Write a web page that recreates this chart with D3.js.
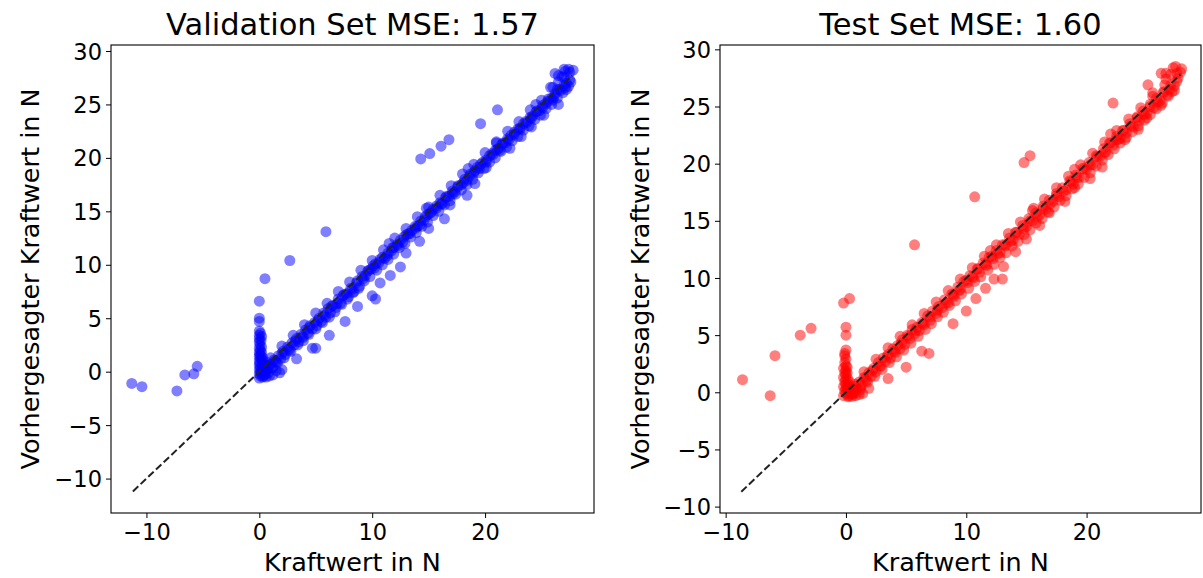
<!DOCTYPE html>
<html>
<head>
<meta charset="utf-8">
<script src="https://cdn.jsdelivr.net/npm/d3@7"></script>
<style>
  html, body { margin: 0; padding: 0; background: #fff; }
  svg { display: block; font-family: "DejaVu Sans", sans-serif; }
</style>
</head>
<body>
<svg id="chart" width="1203" height="578"></svg>
<script>
// ---------- DATA ----------
const titles = ["Validation Set MSE: 1.57", "Test Set MSE: 1.60"];
const xLabel = "Kraftwert in N";
const yLabel = "Vorhergesagter Kraftwert in N";
const xTicks = [-10, 0, 10, 20];
const yTicks = [-10, -5, 0, 5, 10, 15, 20, 25, 30];

// validation: [actual, predicted]
const valOutliers = [[-11.3,-1.1],[-10.4,-1.4],[-7.3,-1.8],[-6.6,-0.3],[-5.8,-0.2],[-5.5,0.5],
  [0.5,8.7],[0.0,6.6],[2.7,10.4],[5.9,13.1],[14.3,19.9],[15.1,20.4],[16.1,21.1],[16.8,21.7],[19.6,23.2],[21.1,24.5]];
const valColumn = [[0,-0.6],[0.1,-0.4],[0,-0.2],[0.1,0],[0,0.2],[0.1,0.4],[0,0.6],[0.05,0.8],[0,1.0],[0.1,1.2],
  [0,1.4],[0.05,1.6],[0,1.8],[0.1,2.0],[0,2.2],[0.05,2.5],[0,2.8],[0,3.1],[0,3.4],[0,3.8],[0,4.7],[0,5.0],
  [0.3,0.3],[0.3,0.8],[0.3,1.3],[0.2,1.8],[0.2,2.3],[0.15,2.9],[0.4,0.0],[0.5,0.5],[0.6,0.9],[0.2,3.3],[0.1,3.6],
  [0.4,-0.4],[0.2,-0.2],[0.35,0.6],[0.25,1.1],[0.15,1.5]];
const valLow = [[0.3,-0.5],[0.6,-0.5],[0.9,-0.4],[1.2,-0.3],[0.5,-0.2],[1.8,-0.1],[2.0,0.2],[0.8,-0.1],[1.5,0.1]];
const valUnder = [[3.3,1.2],[5.0,2.2],[4.7,2.2],[6.2,3.4],[7.6,4.7],[8.7,6.1],[10.0,7.1],[10.3,6.8],[10.7,8.3],
  [11.6,9.0],[12.5,9.8],[13.0,11.1],[14.2,12.2],[15.0,13.4],[16.4,14.3],[16.9,15.6],[18.4,16.5],[19.1,17.6],
  [20.1,19.1],[21.3,20.7],[22.2,20.9],[23.2,22.0],[24.1,22.9],[25.2,24.0],[26.0,25.4],[26.5,25.0],[27.2,26.4]];
const valDiagonal = [[0.2,0.1],[0.4,-0.3],[0.6,0.2],[0.8,0.5],[1.0,0.7],[1.2,0.4],[1.3,1.1],[1.5,0.9],[1.7,1.5],[1.9,1.2],
  [2.1,1.9],[2.3,1.6],[2.5,2.3],[2.7,2.0],[2.9,2.7],[3.1,2.5],[3.3,3.1],[3.5,2.8],[3.7,3.5],[3.9,3.2],[4.1,3.9],[4.3,3.6],
  [4.5,4.3],[4.7,4.0],[4.9,4.6],[5.1,4.3],[5.3,5.0],[5.5,4.7],[5.7,5.5],[5.9,5.1],[6.1,5.9],[6.3,5.5],[6.5,6.2],[6.8,6.0],
  [7.0,6.8],[7.2,6.4],[7.4,7.1],[7.7,7.3],[7.9,7.0],[8.1,7.8],[8.4,7.5],[8.6,8.3],[8.9,8.0],[9.1,8.9],[9.4,9.0],[9.6,9.4],
  [9.9,9.6],[10.1,9.9],[10.3,10.1],[10.6,10.2],[10.9,10.7],[11.1,10.6],[11.4,11.1],[11.7,11.3],[11.9,11.6],[12.2,11.9],
  [12.5,12.3],[12.7,12.1],[13.0,12.8],[13.2,12.9],[13.5,13.2],[13.8,13.4],[14.0,13.6],[14.3,14.1],[14.6,14.2],[14.9,14.7],
  [15.1,14.8],[15.4,15.2],[15.7,15.3],[16.0,15.8],[16.2,15.7],[16.5,16.3],[16.8,16.4],[17.1,16.9],[17.3,16.8],[17.6,17.4],
  [17.9,17.5],[18.2,18.0],[18.4,17.9],[18.7,18.5],[19.0,18.6],[19.3,19.1],[19.5,19.0],[19.8,19.6],[20.1,19.8],[20.4,20.2],
  [20.7,20.3],[20.9,20.7],[21.2,20.9],[21.5,21.3],[21.8,21.4],[22.0,21.8],[22.3,22.1],[22.6,22.2],[22.9,22.7],[23.1,22.7],
  [23.4,23.2],[23.7,23.3],[24.0,23.8],[24.2,23.9],[24.5,24.3],[24.8,24.4],[25.1,24.9],[25.4,25.1],[25.6,25.5],[25.9,25.6],
  [26.2,26.0],[26.4,26.4],[26.7,26.3],[27.0,26.8],[27.2,27.0],[27.5,27.3],[27.4,28.3],[27.1,28.1],[26.8,27.6],[26.5,27.1],
  [26.2,27.9],[27.8,28.2],[11.5,12.0],[14.8,15.3],[18.5,19.0],[21.0,21.5],[24.5,25.0],[25.8,26.6]];
const valBand = [[0.5,0.0],[1.1,0.3],[1.6,0.8],[2.2,1.3],[2.8,1.9],[3.4,2.5],[3.9,2.9],[4.4,3.5],[5.0,4.0],[5.6,4.6],
  [6.2,5.1],[6.7,5.6],[7.3,6.3],[7.8,6.8],[8.3,7.4],[8.8,7.8],[9.3,8.5],[9.8,8.9],[10.4,9.5],[10.9,10.0],[11.4,10.5],
  [11.9,11.0],[12.4,11.6],[12.9,12.0],[13.4,12.6],[13.9,13.0],[14.4,13.6],[14.9,14.0],[15.4,14.6],[15.9,15.0],[16.4,15.6],
  [16.9,16.0],[17.4,16.6],[17.9,17.0],[18.4,17.5],[18.9,18.0],[19.4,18.6],[19.9,19.0],[20.4,19.6],[20.9,20.0],[21.4,20.6],
  [21.9,21.0],[22.4,21.6],[22.9,22.0],[23.4,22.6],[23.9,23.0],[24.4,23.6],[24.9,24.0],[25.4,24.6],[25.9,25.0],[26.4,25.6],
  [26.9,26.1],[27.4,26.7],
  [1.0,1.3],[2.0,2.4],[3.0,3.4],[4.0,4.4],[5.0,5.5],[6.0,6.4],[7.0,7.5],[8.0,8.4],[9.0,9.5],[10.0,10.4],[11.0,11.4],
  [12.0,12.5],[13.0,13.4],[14.0,14.5],[15.0,15.4],[16.0,16.5],[17.0,17.4],[18.0,18.5],[19.0,19.4],[20.0,20.5],[21.0,21.4],
  [22.0,22.5],[23.0,23.4],[24.0,24.5],[25.0,25.4],[26.0,26.6],[27.0,27.6]];
const valBand2 = [[0.7,0.6],[1.4,1.0],[2.0,1.7],[2.6,2.1],[3.2,2.9],[3.8,3.3],[4.4,4.1],[5.2,4.8],[5.8,5.3],[6.4,6.1],
  [6.9,6.4],[7.5,7.2],[8.2,7.7],[8.7,8.5],[9.2,8.7],[9.7,9.5],[10.2,9.7],[10.7,10.5],[11.3,10.8],[11.8,11.6],[12.3,11.8],
  [12.8,12.6],[13.3,12.9],[13.8,13.6],[14.2,13.7],[14.7,14.5],[15.2,14.9],[15.7,15.5],[16.1,15.7],[16.6,16.4],[17.1,16.6],
  [17.6,17.3],[18.1,17.7],[18.6,18.3],[19.1,18.8],[19.6,19.4],[20.1,19.6],[20.6,20.4],[21.1,20.8],[21.6,21.4],[22.1,21.7],
  [22.6,22.4],[23.1,22.8],[23.6,23.4],[24.1,23.7],[24.6,24.4],[25.1,24.7],[25.6,25.3],[26.1,25.7],[26.6,26.4],[27.1,26.6],
  [27.6,27.1],[27.5,28.0],[27.0,28.3],[26.5,27.7]];
const valLine = [-11.2, 27.7];

// test: [actual, predicted]
const testOutliers = [[-8.6,1.1],[-6.3,-0.3],[-5.9,3.2],[-3.8,5.0],[-2.9,5.6],[-0.2,7.8],[0.3,8.2],
  [5.7,12.9],[10.7,17.1],[14.8,20.1],[15.3,20.7],[22.2,25.3]];
const testColumn = [[-0.2,-0.3],[0,-0.1],[-0.1,0.1],[0,0.3],[-0.2,0.5],[0,0.7],[-0.1,0.9],[0,1.1],[-0.2,1.3],[0,1.5],
  [-0.1,1.7],[0,1.9],[-0.2,2.1],[0,2.3],[-0.1,2.6],[0,2.9],[-0.1,3.2],[0,3.7],[0,5.0],[0,5.7],
  [0.2,0.2],[0.2,0.7],[0.15,1.2],[0.1,1.7],[0.1,2.2],[0.3,-0.1],[0.4,0.4],[0.3,0.9],[-0.1,3.4],[0.2,-0.4],[0.1,0.5]];
const testLow = [[0.2,-0.3],[0.5,-0.35],[0.8,-0.3],[1.1,-0.2],[1.4,-0.1],[1.9,0.35],[0.7,0.0],[1.2,0.2]];
const testUnder = [[3.5,1.2],[5.0,2.2],[6.3,3.6],[6.9,3.4],[8.9,6.0],[10.0,7.1],[10.8,8.2],[11.6,9.1],[12.3,9.9],
  [13.0,9.9],[13.1,11.0],[14.1,12.3],[15.0,13.4],[16.1,14.6],[16.9,15.7],[18.2,16.7],[19.0,17.9],[20.3,18.7],
  [21.3,19.7],[22.5,22.1],[23.2,22.1],[24.3,23.0],[25.0,24.0],[26.2,25.1],[27.1,26.3]];
const testDiagonal = [[0.3,0.2],[0.5,-0.2],[0.7,0.5],[0.9,0.3],[1.1,0.9],[1.3,0.6],[1.5,1.3],[1.7,1.0],[1.9,1.7],[2.1,1.4],
  [2.3,2.1],[2.5,1.8],[2.7,2.6],[2.9,2.3],[3.1,3.0],[3.3,2.7],[3.5,3.3],[3.7,3.0],[3.9,3.8],[4.1,3.5],[4.3,4.1],[4.5,3.8],
  [4.7,4.6],[4.9,4.2],[5.1,5.0],[5.3,4.7],[5.5,5.5],[5.7,5.1],[5.9,5.7],[6.1,5.4],[6.3,6.1],[6.5,5.9],[6.8,6.7],[7.0,6.3],
  [7.2,7.1],[7.5,6.9],[7.7,7.5],[8.0,7.4],[8.2,8.1],[8.5,7.8],[8.8,8.6],[9.0,8.4],[9.3,9.2],[9.5,9.0],[9.8,9.7],[10.1,9.6],
  [10.3,10.2],[10.6,10.0],[10.9,10.8],[11.1,10.5],[11.4,11.3],[11.7,11.1],[11.9,11.8],[12.2,11.7],[12.5,12.4],[12.8,12.2],
  [13.0,12.9],[13.3,12.8],[13.6,13.5],[13.9,13.3],[14.1,14.0],[14.4,13.8],[14.7,14.6],[15.0,14.5],[15.2,15.2],[15.5,15.0],
  [15.8,15.7],[16.1,15.5],[16.4,16.3],[16.6,16.0],[16.9,16.8],[17.2,16.7],[17.5,17.4],[17.7,17.1],[18.0,17.9],[18.3,17.7],
  [18.6,18.5],[18.9,18.2],[19.1,19.0],[19.4,18.8],[19.7,19.6],[20.0,19.5],[20.2,20.1],[20.5,19.9],[20.8,20.7],[21.1,20.6],
  [21.4,21.3],[21.6,21.0],[21.9,21.8],[22.2,21.6],[22.5,22.4],[22.8,22.2],[23.0,22.9],[23.3,22.7],[23.6,23.5],[23.9,23.2],
  [24.2,24.1],[24.4,23.8],[24.7,24.6],[25.0,24.4],[25.3,25.2],[25.6,24.9],[25.8,25.7],[26.1,25.5],[26.4,26.3],[26.7,26.0],
  [27.0,26.9],[27.3,26.8],[27.6,27.5],[12.0,12.4],[15.6,16.1],[19.0,19.5],[22.0,22.6],[25.5,26.2],[26.6,27.4],[27.0,27.8],
  [27.4,28.5],[27.9,28.3],[26.2,27.9],[25.1,26.9]];
const testBand = [[0.6,-0.1],[1.2,0.4],[1.8,0.9],[2.4,1.4],[3.0,2.0],[3.6,2.6],[4.2,3.1],[4.8,3.7],[5.4,4.3],[6.0,4.9],
  [6.6,5.5],[7.1,6.0],[7.6,6.6],[8.1,7.0],[8.6,7.6],[9.1,8.0],[9.6,8.6],[10.2,9.1],[10.7,9.7],[11.2,10.1],[11.8,10.7],
  [12.3,11.2],[12.8,11.8],[13.3,12.2],[13.8,12.8],[14.3,13.2],[14.8,13.8],[15.3,14.2],[15.8,14.8],[16.3,15.2],[16.8,15.8],
  [17.3,16.2],[17.8,16.8],[18.3,17.2],[18.8,17.8],[19.3,18.2],[19.8,18.8],[20.3,19.2],[20.8,19.8],[21.3,20.3],[21.8,20.8],
  [22.3,21.3],[22.8,21.8],[23.3,22.3],[23.8,22.8],[24.3,23.3],[24.8,23.8],[25.3,24.3],[25.8,24.8],[26.3,25.3],[26.8,25.9],
  [27.3,26.4],
  [1.5,1.8],[2.5,2.9],[3.5,3.9],[4.5,4.9],[5.5,5.9],[6.5,6.9],[7.5,7.9],[8.5,8.9],[9.5,9.9],[10.5,10.9],[11.5,11.9],
  [12.5,12.9],[13.5,13.9],[14.5,14.9],[15.5,15.9],[16.5,16.9],[17.5,17.9],[18.5,18.9],[19.5,19.9],[20.5,20.9],[21.5,21.9],
  [22.5,22.9],[23.5,23.9],[24.5,24.9],[25.5,25.9],[26.5,26.9],[27.5,27.9]];
const testBand2 = [[0.8,0.7],[1.6,1.2],[2.2,1.9],[2.8,2.3],[3.4,3.1],[4.0,3.6],[4.6,4.3],[5.2,4.9],[5.8,5.4],[6.4,6.0],
  [7.0,6.6],[7.6,7.2],[8.3,7.8],[8.9,8.5],[9.4,8.9],[10.0,9.8],[10.5,10.1],[11.0,10.8],[11.6,11.2],[12.1,11.9],[12.6,12.1],
  [13.2,12.9],[13.7,13.2],[14.2,14.0],[14.8,14.3],[15.3,15.0],[15.9,15.4],[16.4,16.1],[17.0,16.5],[17.5,17.2],[18.1,17.6],
  [18.7,18.4],[19.2,18.8],[19.8,19.5],[20.3,19.9],[20.9,20.6],[21.5,21.0],[22.0,21.8],[22.6,22.1],[23.1,22.9],[23.7,23.3],
  [24.2,24.0],[24.8,24.3],[25.3,25.0],[25.9,25.4],[26.4,26.2],[26.9,26.5],[27.5,27.2],[27.8,28.0],[27.2,28.4],[26.6,27.9]];
const testLine = [-8.7, 27.8];

// ---------- DRAW ----------
const svg = d3.select("#chart");

const panels = [
  { title: titles[0], color: "#0000ff",
    points: [].concat(valDiagonal, valBand, valBand2, valColumn, valLow, valUnder, valOutliers), line: valLine,
    box: { left: 111, right: 594, top: 45, bottom: 513 },
    xDom: [-13.14, 29.65], yDom: [-13.22, 30.56], yLabelX: 30 },
  { title: titles[1], color: "#ff0000",
    points: [].concat(testDiagonal, testBand, testBand2, testColumn, testLow, testUnder, testOutliers), line: testLine,
    box: { left: 720, right: 1201, top: 45, bottom: 513 },
    xDom: [-10.47, 29.51], yDom: [-10.56, 30.38], yLabelX: 640 }
];

panels.forEach(p => {
  const b = p.box;
  const x = d3.scaleLinear().domain(p.xDom).range([b.left, b.right]);
  const y = d3.scaleLinear().domain(p.yDom).range([b.bottom, b.top]);
  const g = svg.append("g");

  // points
  g.append("g").selectAll("circle").data(p.points).join("circle")
    .attr("cx", d => x(d[0])).attr("cy", d => y(d[1])).attr("r", 5.5)
    .attr("fill", p.color).attr("fill-opacity", 0.5);

  // identity line
  g.append("line")
    .attr("x1", x(p.line[0])).attr("y1", y(p.line[0]))
    .attr("x2", x(p.line[1])).attr("y2", y(p.line[1]))
    .attr("stroke", "#222").attr("stroke-width", 2).attr("stroke-dasharray", "7.4,3.2");

  // axes
  const xa = g.append("g").attr("transform", `translate(0,${b.bottom})`)
    .call(d3.axisBottom(x).tickValues(xTicks).tickSize(5).tickSizeOuter(0).tickPadding(4));
  const ya = g.append("g").attr("transform", `translate(${b.left},0)`)
    .call(d3.axisLeft(y).tickValues(yTicks).tickSize(5).tickSizeOuter(0).tickPadding(4));
  [xa, ya].forEach(a => {
    a.select(".domain").remove();
    a.selectAll("line").attr("stroke", "#000").attr("stroke-width", 1);
    a.selectAll("text").attr("font-family", "DejaVu Sans, sans-serif")
      .attr("font-size", 22.5).attr("fill", "#000");
  });
  xa.selectAll("text").attr("dy", "0.78em");
  ya.selectAll("text").attr("dy", "0.36em");

  // spines
  g.append("rect").attr("x", b.left).attr("y", b.top)
    .attr("width", b.right - b.left).attr("height", b.bottom - b.top)
    .attr("fill", "none").attr("stroke", "#000").attr("stroke-width", 1.1);

  // title
  g.append("text").attr("x", (b.left + b.right) / 2).attr("y", 35)
    .attr("text-anchor", "middle").attr("font-size", 30.5).attr("fill", "#000").text(p.title);

  // x label
  g.append("text").attr("x", (b.left + b.right) / 2).attr("y", 571)
    .attr("text-anchor", "middle").attr("font-size", 25.5).attr("fill", "#000").text(xLabel);

  // y label
  g.append("text").attr("transform", `translate(${p.yLabelX},${(b.top + b.bottom) / 2}) rotate(-90)`)
    .attr("text-anchor", "middle").attr("dy", "0.35em").attr("font-size", 25.5).attr("fill", "#000").text(yLabel);
});
</script>
</body>
</html>
